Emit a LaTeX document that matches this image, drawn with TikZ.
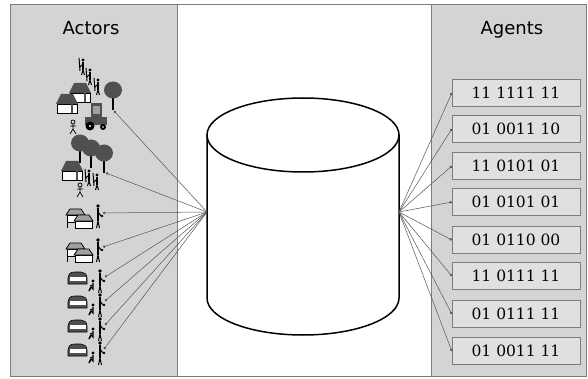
\documentclass[tikz,border=0pt]{standalone}
\usepackage{fontspec}
\usetikzlibrary{arrows.meta}

\newfontfamily\headfont{DejaVu Sans}
\newfontfamily\bitsfont{DejaVu Serif}

\definecolor{panelgray}{RGB}{212,212,212}
\definecolor{boxgray}{RGB}{224,224,224}
\definecolor{framegray}{RGB}{125,125,125}
\definecolor{linkgray}{RGB}{85,85,85}
\definecolor{icongray}{RGB}{80,80,80}
\definecolor{rooflight}{RGB}{160,160,160}

\tikzset{
    panel/.style={fill=panelgray, draw=framegray, line width=1pt},
    title/.style={font=\headfont\fontsize{18}{18}\selectfont, anchor=base, inner sep=0pt},
    bits/.style={draw=framegray, fill=boxgray, minimum width=128pt, minimum height=27pt,
        inner sep=0pt, font=\bitsfont\fontsize{15.5}{15.5}\selectfont},
    link/.style={draw=linkgray, line width=0.5pt, -{Circle[length=2.5pt]}},
    % icons: origin at the foot, y grows downwards
    farmhouse/.pic={
        \fill[icongray] (-1,-9) -- (4,-19) -- (16,-19) -- (21,-9) -- cycle;
        \draw[fill=white, line width=0.7pt] (0,-9) rectangle (20,0);
        \fill[icongray] (14,-9) rectangle (15.5,0);
    },
    barn/.pic={
        \draw[fill=white, line width=0.7pt] (0,-7) rectangle (17,0);
        \draw[fill=rooflight, line width=0.7pt] (-1,-7) -- (3,-13) -- (14,-13) -- (18,-7) -- cycle;
    },
    hut/.pic={
        \draw[fill=icongray, line width=0.6pt] (0,0) -- (0,-6) .. controls (1,-12) and (4,-12) .. (8,-12)
            -- (13,-12) .. controls (16,-12) and (19,-10) .. (19,-6) -- (19,0) -- cycle;
        \fill[white] (1.5,-7.5) rectangle (17.5,-3);
    },
    tree/.pic={
        \draw[line width=1.8pt] (0,0) -- (0,-12);
        \fill[icongray] (0,-20) ellipse [x radius=9, y radius=8.5];
    },
    walker/.pic={
        \fill (0,-15) circle (1.7);
        \draw[line width=2pt] (0,-13) -- (0,-5);
        \draw[line width=1pt] (0,-5) -- (-1.5,0) (0,-5) -- (1.5,0) (0,-11) -- (-3,-8) (-4,-17) -- (-3,-4);
    },
    worker/.pic={
        \fill (0,-22) circle (1.8);
        \draw[line width=2.2pt] (0,-20) -- (0,-7);
        \draw[line width=1pt] (0,-7) -- (-1.5,0) (0,-7) -- (1.5,0) (0,-16) -- (3,-12);
        \fill (4,-12) circle (1.4);
    },
    kneeler/.pic={
        \fill (1,-10) circle (1.6);
        \draw[line width=1.4pt] (-3,0) -- (-1,-4) -- (1,-2) -- (1,-8);
        \draw[line width=0.9pt] (1,-6) -- (-2,-5);
    },
    outlined/.pic={
        \draw[line width=0.7pt] (0,-12) circle (2);
        \draw[line width=0.7pt] (0,-10) -- (0,-5) -- (-3,0) (0,-5) -- (3,0) (-3,-8) -- (3,-8);
    },
    tractor/.pic={
        \fill[icongray] (0,-13) rectangle (22,-5);
        \fill[icongray] (6,-27) rectangle (17,-13);
        \fill[rooflight] (8,-24) rectangle (15,-16);
        \fill (5,-4) circle (4.5);
        \fill (18,-3) circle (3);
        \fill[white] (5,-4) circle (1.2) (18,-3) circle (0.9);
    },
}

\begin{document}
\begin{tikzpicture}[x=1pt, y=-1pt]
    \useasboundingbox (0,0) rectangle (588,379);

    % columns
    \fill[white] (0,0) rectangle (588,379);
    \draw[panel] (10,5) rectangle (177,376);
    \draw[panel] (431,5) rectangle (586,376);
    \draw[draw=framegray, line width=1pt] (10,5) rectangle (586,376);

    \node[title] (actors) at (91,35) {Actors};
    \node[title] (agents) at (512,35) {Agents};

    % database
    \draw[line width=1.5pt, fill=white] (207,135) -- (207,298)
        arc[start angle=180, end angle=0, x radius=96, y radius=37] -- (399,135);
    \draw[line width=1.5pt] (303,135) ellipse [x radius=96, y radius=37];
    \coordinate (dbL) at (207,212);
    \coordinate (dbR) at (399,212);

    % farm with machinery
    \pic at (83,75) {walker};
    \pic at (90,85) {walker};
    \pic at (98,95) {walker};
    \pic at (70,102) {farmhouse};
    \pic at (57,113) {farmhouse};
    \pic at (113,110) {tree};
    \pic at (85,130) {tractor};
    \pic at (73,134) {outlined};
    \coordinate (a1) at (114,111);

    % farm with orchard
    \pic at (80,163) {tree};
    \pic at (91,168) {tree};
    \pic at (104,173) {tree};
    \pic at (62,180) {farmhouse};
    \pic at (89,186) {walker};
    \pic at (97,190) {walker};
    \pic at (80,197) {outlined};
    \coordinate (a2) at (106,173);

    % family farms
    \pic at (67,222) {barn};
    \draw[line width=0.7pt] (67,222) -- (67,228);
    \pic at (75,228) {barn};
    \pic at (98,228) {worker};
    \coordinate (a3) at (103,213);

    \pic at (67,256) {barn};
    \draw[line width=0.7pt] (67,256) -- (67,262);
    \pic at (75,262) {barn};
    \pic at (98,262) {worker};
    \coordinate (a4) at (103,247);

    % smallholders
    \pic at (68,284) {hut};
    \pic at (92,291) {kneeler};
    \pic at (100,293) {worker};
    \coordinate (a5) at (105,277);

    \pic at (68,308) {hut};
    \pic at (92,315) {kneeler};
    \pic at (100,317) {worker};
    \coordinate (a6) at (105,301);

    \pic at (68,332) {hut};
    \pic at (92,339) {kneeler};
    \pic at (100,341) {worker};
    \coordinate (a7) at (105,325);

    \pic at (68,356) {hut};
    \pic at (92,363) {kneeler};
    \pic at (100,365) {worker};
    \coordinate (a8) at (104,349);

    % agent genomes
    \node[bits] (b1) at (516,93) {11 1111 11};
    \node[bits] (b2) at (516,129) {01 0011 10};
    \node[bits] (b3) at (516,166) {11 0101 01};
    \node[bits] (b4) at (516,202) {01 0101 01};
    \node[bits] (b5) at (516,240) {01 0110 00};
    \node[bits] (b6) at (516,276) {11 0111 11};
    \node[bits] (b7) at (516,314) {01 0111 11};
    \node[bits] (b8) at (516,351) {01 0011 11};

    \draw[link] (dbL) -- (a1);
    \draw[link] (dbL) -- (a2);
    \draw[link] (dbL) -- (a3);
    \draw[link] (dbL) -- (a4);
    \draw[link] (dbL) -- (a5);
    \draw[link] (dbL) -- (a6);
    \draw[link] (dbL) -- (a7);
    \draw[link] (dbL) -- (a8);

    \draw[link] (dbR) -- (b1.west);
    \draw[link] (dbR) -- (b2.west);
    \draw[link] (dbR) -- (b3.west);
    \draw[link] (dbR) -- (b4.west);
    \draw[link] (dbR) -- (b5.west);
    \draw[link] (dbR) -- (b6.west);
    \draw[link] (dbR) -- (b7.west);
    \draw[link] (dbR) -- (b8.west);
\end{tikzpicture}
\end{document}
